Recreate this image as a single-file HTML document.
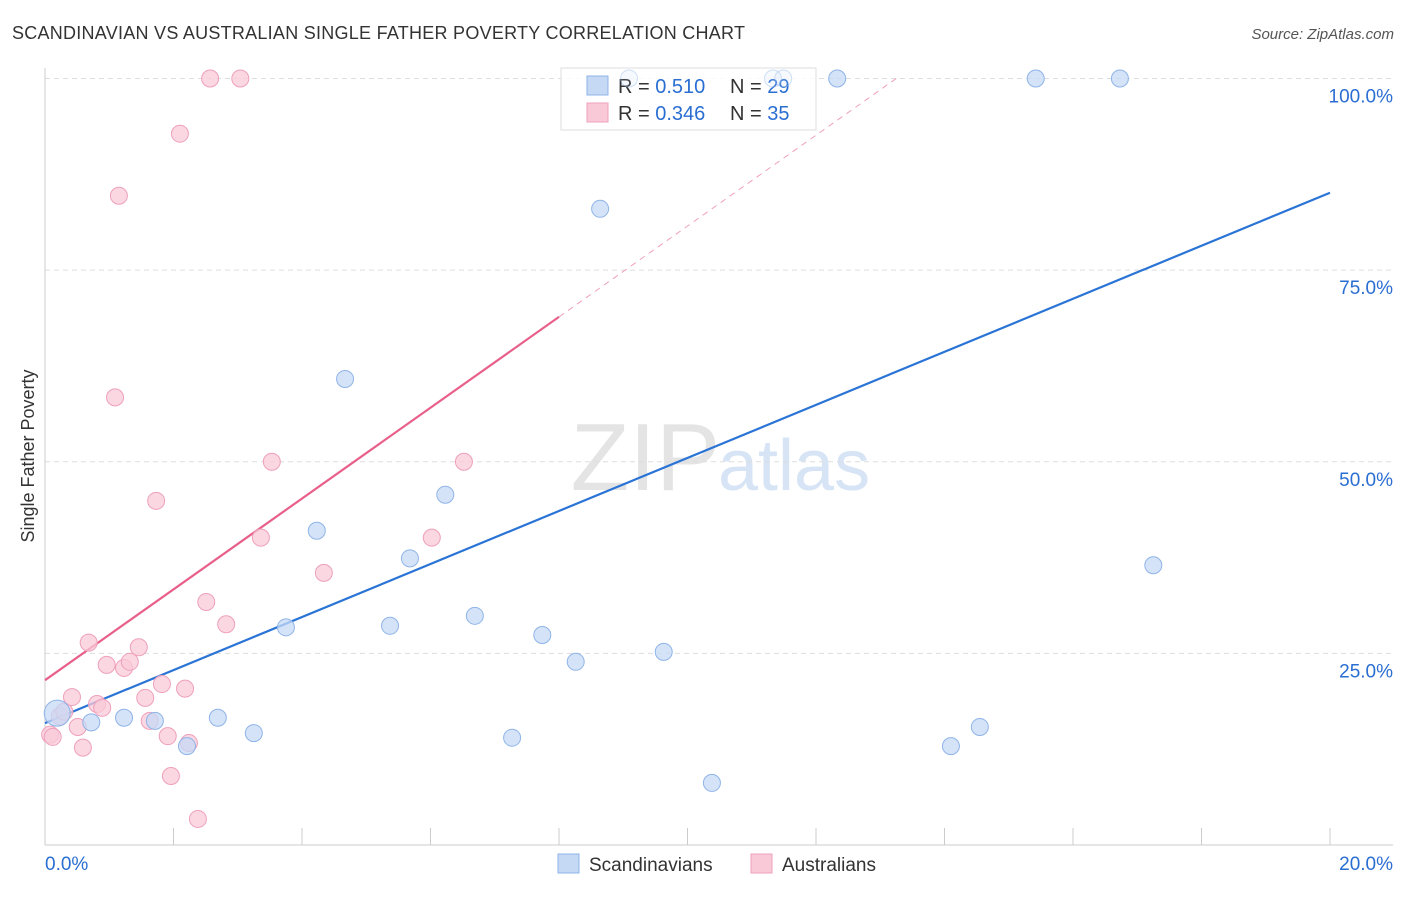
<!DOCTYPE html>
<html><head><meta charset="utf-8"><style>
body{margin:0;background:#fff;font-family:"Liberation Sans",sans-serif;}
svg text{font-family:"Liberation Sans",sans-serif;}
</style></head><body>
<svg id="chart" width="1406" height="892">
<text x="12" y="39" font-size="18" fill="#333" textLength="733">SCANDINAVIAN VS AUSTRALIAN SINGLE FATHER POVERTY CORRELATION CHART</text>
<text x="1394" y="39" font-size="15" fill="#555" font-style="italic" text-anchor="end">Source: ZipAtlas.com</text>
<text x="720" y="490" font-size="96" fill="#e4e4e4" text-anchor="end" font-family="Liberation Serif">ZIP</text>
<text x="718" y="490" font-size="72" fill="#d6e4f5">atlas</text>
<text transform="translate(34,456) rotate(-90)" font-size="18" fill="#333" text-anchor="middle">Single Father Poverty</text>
<g id="grid"></g><g id="axes"></g><g id="lines"></g>
<g>
<rect x="561" y="68" width="255" height="62" fill="#fff" fill-opacity="0.85" stroke="#ddd"/>
<rect x="587" y="76" width="21" height="19" fill="#c5d9f5" stroke="#8fb4e8"/>
<rect x="587" y="103" width="21" height="19" fill="#f9c9d8" stroke="#eea0bb"/>
<text x="618" y="93" font-size="20" fill="#333">R = <tspan fill="#2a6ed2">0.510</tspan><tspan x="730">N = </tspan><tspan fill="#2a6ed2">29</tspan></text>
<text x="618" y="120" font-size="20" fill="#333">R = <tspan fill="#2a6ed2">0.346</tspan><tspan x="730">N = </tspan><tspan fill="#2a6ed2">35</tspan></text>
</g>
<g id="pts"></g>
<g>
<rect x="558" y="854" width="21" height="19" fill="#c5d9f5" stroke="#8fb4e8"/>
<text x="589" y="871" font-size="19" fill="#333">Scandinavians</text>
<rect x="751" y="854" width="21" height="19" fill="#f9c9d8" stroke="#eea0bb"/>
<text x="782" y="871" font-size="19" fill="#333">Australians</text>
</g>
</svg>
<script>
const blueX=[0.19,0.72,1.23,1.71,2.21,2.69,3.25,3.75,4.23,4.67,5.37,5.68,6.23,6.69,7.27,7.74,8.26,8.64,9.09,9.63,10.38,11.33,11.49,12.33,14.10,14.55,15.42,16.73,17.25];
const blueY=[17.2,16.0,16.6,16.2,12.9,16.6,14.6,28.4,41.0,60.8,28.6,37.4,45.7,29.9,14.0,27.4,23.9,83.0,100,25.2,8.1,100,100,100,12.9,15.4,100,100,36.5];
const pinkX=[0.08,0.12,0.23,0.30,0.42,0.51,0.59,0.68,0.81,0.89,0.96,1.09,1.15,1.23,1.32,1.46,1.56,1.63,1.73,1.82,1.91,1.96,2.10,2.18,2.24,2.38,2.51,2.57,2.82,3.04,3.36,3.53,4.34,6.02,6.52];
const pinkY=[14.4,14.1,16.8,17.4,19.3,15.4,12.7,26.4,18.4,17.9,23.5,58.4,84.7,23.1,23.9,25.8,19.2,16.2,44.9,21.0,14.2,9.0,92.8,20.4,13.3,3.4,31.7,100,28.8,100,40.1,50.0,35.5,40.1,50.0];
const yTicks=[25,50,75,100];
const yTickLabels=["25.0%","50.0%","75.0%","100.0%"];
const xTickLabels=["0.0%","20.0%"];
const blueTrend=[15.9,85.1];
const pinkTrend=[21.5,68.9];
const X=v=>45+v/20*1285, Y=v=>845-v*7.665;
const NS="http://www.w3.org/2000/svg";
function mk(t,a,p){const e=document.createElementNS(NS,t);for(const k in a)e.setAttribute(k,a[k]);p.appendChild(e);return e;}
const grid=document.getElementById('grid'),axes=document.getElementById('axes'),lines=document.getElementById('lines'),pts=document.getElementById('pts');
yTicks.forEach((t,i)=>{
 const l=mk('line',{x1:45,x2:1393,y1:Y(t),y2:Y(t),stroke:'#ddd','stroke-dasharray':'5,4'},grid);
 
 
 const tx=mk('text',{x:1393,y:Y(t)+24,'font-size':19,fill:'#2a6ed2','text-anchor':'end'},axes);tx.textContent=yTickLabels[i];
 
 
});
mk('line',{x1:45,x2:45,y1:68,y2:845,stroke:'#ccc'},axes);
mk('line',{x1:45,x2:1393,y1:845,y2:845,stroke:'#ccc'},axes);
for(let i=0;i<=10;i++){mk('line',{x1:X(i*2),x2:X(i*2),y1:828,y2:845,stroke:'#ccc'},axes);}
xTickLabels.forEach((s,i)=>{const t=mk('text',{x:i?1393:45,y:870,'font-size':19,fill:'#2a6ed2','text-anchor':i?'end':'start'},axes);t.textContent=s;
 
 });
function dot(x,y,f,s){const c=mk('circle',{cx:X(x),cy:Y(y),r:8.5,fill:f,'fill-opacity':0.75,stroke:s,'stroke-width':1},pts);return c;}
pinkX.forEach((x,i)=>{const c=dot(x,pinkY[i],'#f9c9d8','#eea0bb');
 
 });
blueX.forEach((x,i)=>{const c=dot(x,blueY[i],'#c5d9f5','#8fb4e8');if(i===0)c.setAttribute('r',13);
 if(blueY[i]>=99&&x>8.5&&x<12){c.setAttribute('fill-opacity',0.15);c.setAttribute('stroke-opacity',0.4);}
 
 });
const bl=mk('line',{x1:X(0),y1:Y(blueTrend[0]),x2:X(20),y2:Y(blueTrend[1]),stroke:'#2a74d6','stroke-width':2.2},lines);


const slope=(pinkTrend[1]-pinkTrend[0])/8, xe=(100-pinkTrend[0])/slope;
const pl=mk('line',{x1:X(0),y1:Y(pinkTrend[0]),x2:X(8),y2:Y(pinkTrend[1]),stroke:'#e8608a','stroke-width':2.2},lines);


const pd=mk('line',{x1:X(8),y1:Y(pinkTrend[1]),x2:X(xe),y2:Y(100),stroke:'#eea0bb','stroke-width':1,'stroke-dasharray':'6,5'},lines);


</script>
</body></html>
